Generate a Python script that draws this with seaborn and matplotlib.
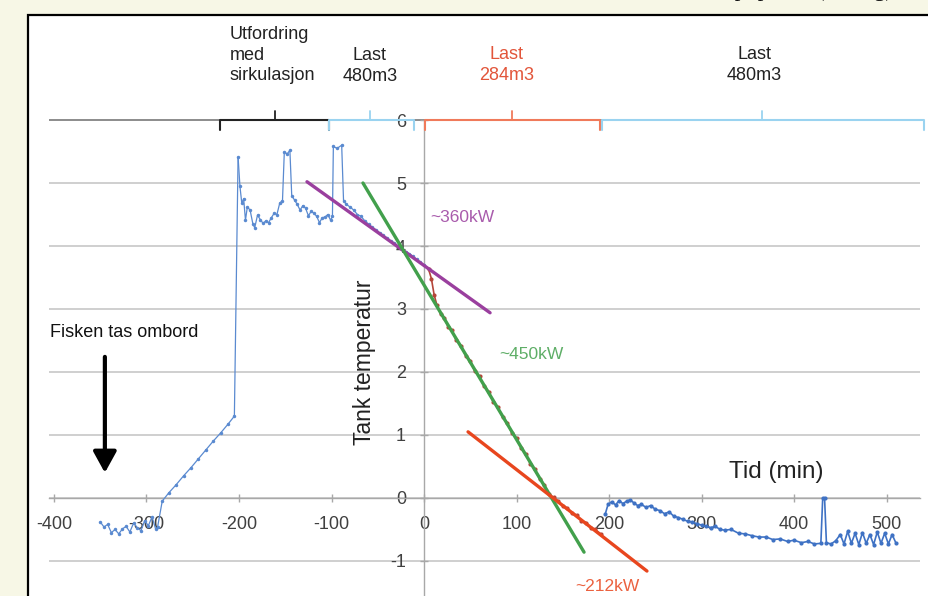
import matplotlib.pyplot as plt
from matplotlib.patches import Rectangle
import seaborn as sns

sns.set_theme(style="white")
plt.rcParams['font.family'] = ['Liberation Sans', 'DejaVu Sans']
plt.rcParams['axes.unicode_minus'] = False

# before loading: fish taken on board, then warm-up
loading_t = [-350, -346, -342, -338, -334, -330, -326, -322, -318, -314, -310, -306, -302, -298, -294, -290, -288,
             -283, -276, -268, -260, -252, -244, -236, -228, -220, -212, -205]
loading_temp = [-0.38, -0.46, -0.42, -0.55, -0.50, -0.57, -0.49, -0.45, -0.54, -0.40, -0.47, -0.52, -0.36, -0.44, -0.30, -0.50, -0.46,
                -0.05, 0.08, 0.21, 0.35, 0.48, 0.62, 0.76, 0.90, 1.03, 1.17, 1.30]

# circulation challenge + first 480m3 load
circ_t = [-201, -199, -197, -195, -193, -191, -188, -185, -183, -180, -177, -174,
          -171, -168, -165, -162, -159, -156, -153, -151, -148, -145, -143, -140,
          -137, -134, -131, -128, -125, -122, -119, -116, -113, -110, -107, -104,
          -101, -99, -98, -94, -89, -87, -84, -80, -76, -72, -68, -64,
          -60, -56, -52, -48, -44, -40, -36, -32, -28, -24, -20, -16,
          -12, -8, -4, 0, 5]
circ_temp = [5.41, 4.95, 4.68, 4.75, 4.41, 4.62, 4.57, 4.35, 4.29, 4.49, 4.42, 4.36,
             4.40, 4.37, 4.45, 4.52, 4.50, 4.68, 4.72, 5.50, 5.46, 5.52, 4.80, 4.73,
             4.66, 4.57, 4.64, 4.60, 4.48, 4.55, 4.52, 4.47, 4.37, 4.45, 4.46, 4.50,
             4.41, 4.47, 5.58, 5.55, 5.60, 4.72, 4.66, 4.62, 4.57, 4.50, 4.47, 4.40,
             4.35, 4.30, 4.26, 4.21, 4.17, 4.13, 4.08, 4.05, 4.00, 3.95, 3.91, 3.88,
             3.84, 3.79, 3.74, 3.70, 3.63]

# 284m3 load
load284_t = [5, 8, 11, 14, 18, 22, 26, 30, 35, 40, 45, 50, 55, 60, 65, 70, 75, 80,
             85, 90, 95, 100, 105, 110, 115, 120, 125, 130, 135, 140, 145, 150, 155, 160,
             165, 170, 175, 180, 185, 191]
load284_temp = [3.63, 3.48, 3.22, 3.06, 2.92, 2.86, 2.72, 2.66, 2.50, 2.42, 2.26, 2.18,
                2.01, 1.93, 1.77, 1.69, 1.52, 1.44, 1.28, 1.19, 1.03, 0.95, 0.79, 0.70,
                0.54, 0.46, 0.30, 0.21, 0.06, 0.01, -0.05, -0.13, -0.16, -0.24, -0.27, -0.36,
                -0.39, -0.47, -0.50, -0.57]

# second 480m3 load
load480_t = [196, 199, 203, 207, 211, 215, 219, 223, 227, 231, 235, 240,
             245, 250, 255, 260, 265, 270, 275, 280, 285, 290, 295, 300,
             305, 310, 315, 320, 325, 332, 340, 347, 355, 362, 370, 377,
             385, 393, 400, 408, 415, 422, 429, 431, 433, 435, 440, 445,
             450, 454, 458, 462, 466, 470, 474, 478, 482, 486, 490, 494,
             498, 502, 506, 510]
load480_temp = [-0.25, -0.10, -0.06, -0.11, -0.04, -0.09, -0.05, -0.03, -0.08, -0.12, -0.10, -0.15,
                -0.12, -0.18, -0.20, -0.25, -0.22, -0.29, -0.31, -0.34, -0.37, -0.38, -0.41, -0.43,
                -0.45, -0.47, -0.45, -0.50, -0.51, -0.50, -0.56, -0.57, -0.60, -0.62, -0.62, -0.66,
                -0.65, -0.69, -0.67, -0.71, -0.69, -0.73, -0.72, 0.00, 0.00, -0.71, -0.73, -0.68,
                -0.58, -0.73, -0.53, -0.72, -0.56, -0.74, -0.55, -0.72, -0.58, -0.74, -0.54, -0.72,
                -0.56, -0.73, -0.58, -0.71]

# fitted cooling lines: (t0, t1), (y0, y1), label, colour, label pos
fit_t = [(-126.5, 71.4), (-66, 173), (47.6, 241)]
fit_y = [(5.02, 2.94), (5.0, -0.86), (1.05, -1.16)]
fit_labels = ['~360kW', '~450kW', '~212kW']
fit_colors = ['#9a3f9e', '#42a04c', '#e8461e']
fit_label_pos = [(6.5, 4.46), (81, 2.27), (164, -1.41)]

# phases along the top
phase_start = [-220.5, -102.7, 1.0, 192.0]
phase_end = [-102.7, -10.8, 190.0, 540.0]
phase_mid = [-161, -58, 95, 365]
phase_colors = ['#222222', '#9ad3f0', '#f07a5a', '#9ad3f0']
phase_texts = ['Utfordring\nmed\nsirkulasjon', 'Last\n480m3', 'Last\n284m3', 'Last\n480m3']
phase_text_x = [-210, -58.4, 89.7, 356.8]
phase_text_y = [7.03, 6.86, 6.87, 6.87]
phase_text_ha = ['left', 'center', 'center', 'center']
phase_text_colors = ['#222222', '#222222', '#e2553a', '#222222']

x_ticks = [-400, -300, -200, -100, 0, 100, 200, 300, 400, 500]
y_ticks = [-1, 0, 1, 2, 3, 4, 5, 6]

fig = plt.figure(figsize=(9.29, 5.96), dpi=100)
fig.patch.set_facecolor('#f7f7e6')
fig.add_artist(Rectangle((28 / 929, -0.05), 1.0, 0.05 + 581 / 596, transform=fig.transFigure,
                         facecolor='white', edgecolor='black', lw=1.6, zorder=-1))
# slide title, cut off by the screenshot's top edge
fig.text(893 / 929, 1 + 4 / 596, 'Tanktemp. pr. tid (lasting)', family='Liberation Serif',
         fontsize=16.5, ha='right', va='baseline', color='#111111')

ax = fig.add_axes([28 / 929, 0, 901 / 929, 581 / 596])
ax.set_facecolor('none')

# grid
for y in y_ticks:
    ax.hlines(y, -405, 536, color='#8c8c8c' if y == 6 else '#cfcfcf', lw=1.4, zorder=0)

sns.lineplot(x=loading_t, y=loading_temp, ax=ax, sort=False, estimator=None, color='#5a8ad0',
             lw=0.9, marker='o', markersize=2.5, markeredgewidth=0, zorder=3)
sns.lineplot(x=[loading_t[-1], circ_t[0]], y=[loading_temp[-1], circ_temp[0]], ax=ax, sort=False,
             estimator=None, color='#5a8ad0', lw=0.9, zorder=3)
sns.lineplot(x=circ_t, y=circ_temp, ax=ax, sort=False, estimator=None, color='#5a8ad0',
             lw=0.9, marker='o', markersize=2.5, markeredgewidth=0, zorder=3)
sns.lineplot(x=load284_t, y=load284_temp, ax=ax, sort=False, estimator=None, color='#b5463a',
             lw=1.2, marker='o', markersize=3, markeredgewidth=0, zorder=3)
sns.lineplot(x=load480_t, y=load480_temp, ax=ax, sort=False, estimator=None, color='#3f72c4',
             lw=1.2, marker='o', markersize=3, markeredgewidth=0, zorder=3)

for (t0, t1), (y0, y1), lab, c, (lx, ly) in zip(fit_t, fit_y, fit_labels, fit_colors, fit_label_pos):
    sns.lineplot(x=[t0, t1], y=[y0, y1], ax=ax, color=c, lw=2.4, zorder=4)
    ax.text(lx, ly, lab, color=c, fontsize=12.5, ha='left', va='center', alpha=0.85)

# phase brackets
for x0, x1, xm, c in zip(phase_start, phase_end, phase_mid, phase_colors):
    ax.plot([x0, x0, x1, x1], [5.84, 6.0, 6.0, 5.84], color=c, lw=1.5, zorder=5)
    ax.plot([xm, xm], [6.0, 6.14], color=c, lw=1.3, zorder=5)
for tx, ty, s, ha, c in zip(phase_text_x, phase_text_y, phase_texts, phase_text_ha, phase_text_colors):
    ax.text(tx, ty, s, ha=ha, va='center', fontsize=13, color=c, linespacing=1.27,
            multialignment='left' if ha == 'left' else 'center')

ax.text(-404, 2.63, 'Fisken tas ombord', fontsize=13, ha='left', va='center', color='#111111')
ax.annotate('', xy=(-345, 0.40), xytext=(-345, 2.24),
            arrowprops=dict(arrowstyle='-|>,head_length=0.4,head_width=0.22', color='black',
                            lw=3, mutation_scale=32, shrinkA=0, shrinkB=0))

ax.set_xlim(-428.1, 545.9)
ax.set_ylim(-1.556, 7.667)
ax.set_xticks(x_ticks)
ax.set_yticks(y_ticks)
ax.spines['left'].set_position(('data', 0))
ax.spines['bottom'].set_position(('data', 0))
ax.spines['left'].set_bounds(-1.6, 6.0)
ax.spines['bottom'].set_bounds(-405, 536)
for s in ['left', 'bottom']:
    ax.spines[s].set_color('#a8a8a8')
    ax.spines[s].set_linewidth(1.0)
    ax.spines[s].set_zorder(1)
ax.spines['right'].set_visible(False)
ax.spines['top'].set_visible(False)
ax.tick_params(axis='x', direction='inout', length=6, width=1, pad=10, labelsize=13,
               color='#a8a8a8', labelcolor='#404040', bottom=True)
ax.tick_params(axis='y', direction='inout', length=6, width=1, pad=10, labelsize=13,
               color='#a8a8a8', labelcolor='#404040', left=True)

ax.set_xlabel('Tid (min)', fontsize=17.5, color='#222222')
ax.xaxis.set_label_coords(0.831, 0.2324)
ax.set_ylabel('Tank temperatur', fontsize=16.5, color='#222222')
ax.yaxis.set_label_coords(0.3866, 0.4028)

fig.savefig('out.png', dpi=100, facecolor=fig.get_facecolor())
